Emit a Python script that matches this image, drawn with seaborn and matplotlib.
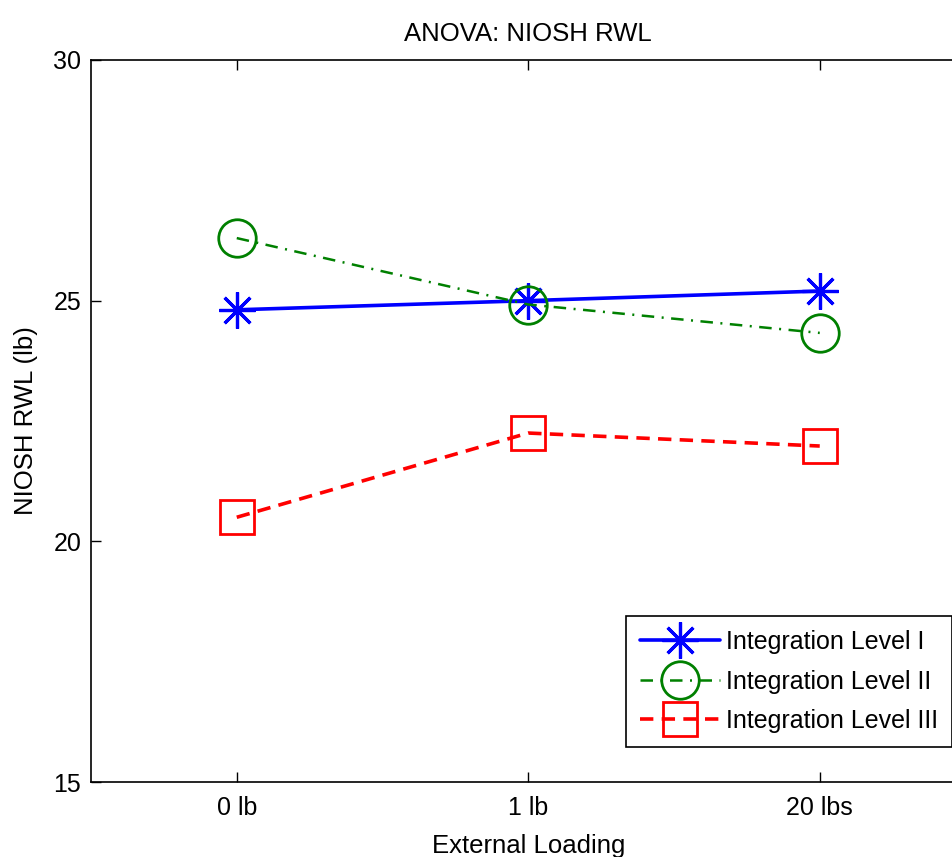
import matplotlib
matplotlib.use("Agg")
import matplotlib.pyplot as plt
import seaborn as sns
import pandas as pd

categories = ["0 lb", "1 lb", "20 lbs"]
level_1 = [24.81, 25.00, 25.20]
level_2 = [26.30, 24.92, 24.33]
level_3 = [20.50, 22.25, 21.98]
series_names = ["Integration Level I", "Integration Level II", "Integration Level III"]
yticks = [15, 20, 25, 30]

sns.set_style("ticks")
plt.rcParams["font.family"] = ["Liberation Sans", "DejaVu Sans"]
plt.rcParams["text.color"] = "black"
plt.rcParams["axes.labelcolor"] = "black"
plt.rcParams["xtick.color"] = "black"
plt.rcParams["ytick.color"] = "black"
plt.rcParams["axes.edgecolor"] = "black"

fig = plt.figure(figsize=(9.53, 8.57), dpi=100)
ax = fig.add_axes([0.0955, 0.0875, 0.9176, 0.8425])

x = list(range(len(categories)))
styles = [
    dict(color=(0, 0, 1), marker=(8, 2, 0), ms=26, mew=2.3, lw=2.6, dashes=None),
    dict(color=(0, 0.5, 0), marker="o", ms=27, mew=2.0, lw=1.8, dashes=(5, 3, 0.8, 3)),
    dict(color=(1, 0, 0), marker="s", ms=25, mew=2.0, lw=2.6, dashes=(3.7, 2.3)),
]
for vals, name, st in zip([level_1, level_2, level_3], series_names, styles):
    df = pd.DataFrame({"x": x, "y": vals})
    kw = dict(color=st["color"], marker=st["marker"], markersize=st["ms"],
              markeredgewidth=st["mew"], markerfacecolor="none",
              markeredgecolor=st["color"], linewidth=st["lw"], label=name)
    if st["dashes"] is not None:
        kw["dashes"] = st["dashes"]
    sns.lineplot(data=df, x="x", y="y", ax=ax, **kw)

ax.set_xlim(-0.5, 2.5)
ax.set_ylim(15, 30)
ax.set_xticks(x)
ax.set_xticklabels(categories)
ax.set_yticks(yticks)
ax.tick_params(axis="both", direction="in", length=7, width=1, top=True, right=True,
               labelsize=18)
ax.tick_params(axis="x", pad=10)
ax.tick_params(axis="y", pad=7)
for s in ax.spines.values():
    s.set_visible(True)
    s.set_linewidth(1.2)
    s.set_color("black")
ax.set_title("ANOVA: NIOSH RWL", fontsize=18.5, pad=14)
ax.set_xlabel("External Loading", fontsize=18.5, labelpad=10)
ax.set_ylabel("NIOSH RWL (lb)", fontsize=18.5, labelpad=11)

leg = ax.legend(loc="lower right", bbox_to_anchor=(0.9846, 0.0485), borderaxespad=0,
                fontsize=18, frameon=True, fancybox=False, edgecolor="black",
                handlelength=3.2, handletextpad=0.25, borderpad=0.55,
                labelspacing=0.62, markerscale=1.0)
leg.get_frame().set_linewidth(1.2)
leg.get_frame().set_alpha(1)

fig.savefig("out.png", dpi=100, facecolor="white")
